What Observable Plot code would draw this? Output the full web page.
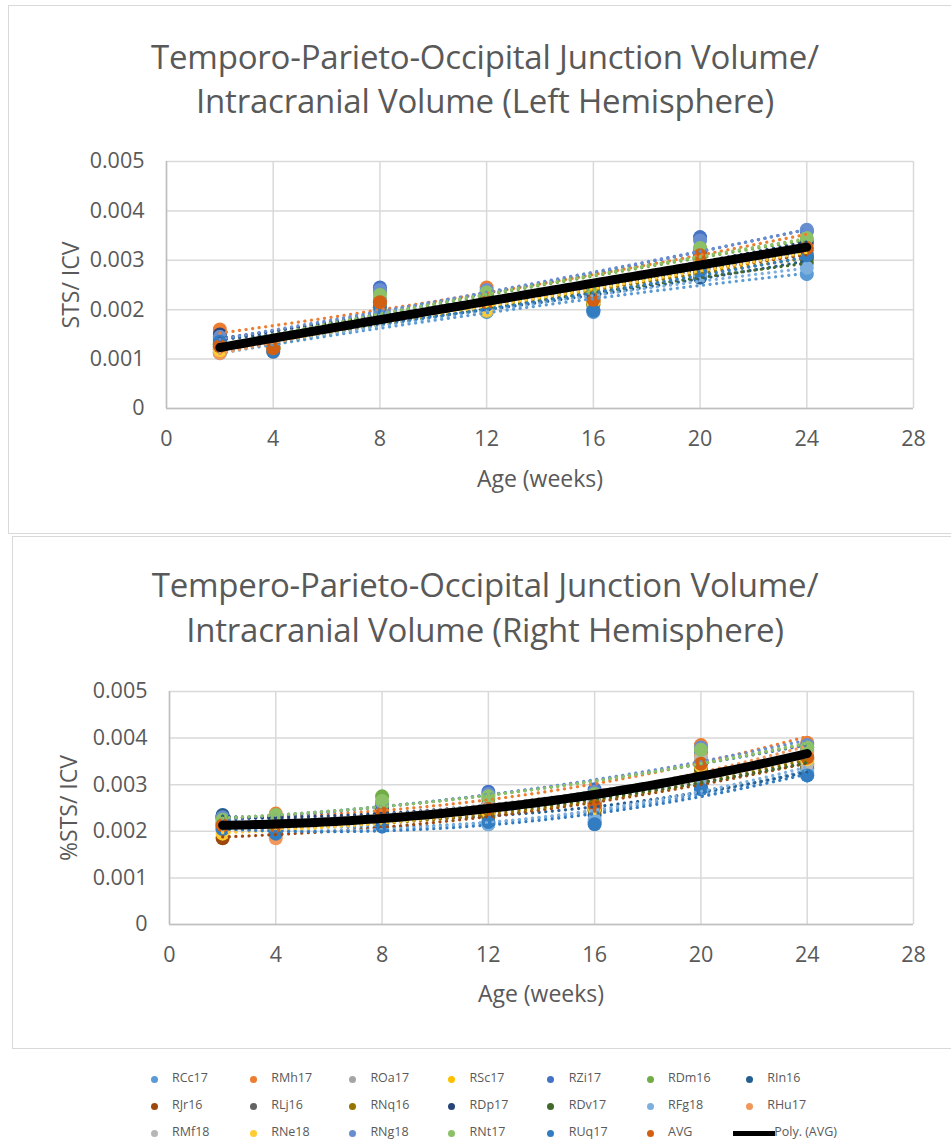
<!DOCTYPE html>
<html>
<head>
<meta charset="utf-8">
<script src="https://cdn.jsdelivr.net/npm/d3@7"></script>
<script src="https://cdn.jsdelivr.net/npm/@observablehq/plot@0.6"></script>
<style>
  body { margin: 0; background: #fff; font-family: "Open Sans", sans-serif; color: #595959; }
  #page { position: relative; width: 951px; height: 1144px; overflow: hidden; background: #fff; }
  .panel { position: absolute; border: 1.5px solid #d9d9d9; background: #fff; }
  .title { position: absolute; left: 0; width: 970px; text-align: center; font-size: 33px; font-weight: 400; color: #595959; white-space: nowrap; line-height: 1; letter-spacing: -0.2px; }
  .axlab { position: absolute; font-size: 23px; color: #595959; white-space: nowrap; line-height: 1; }
  .chart { position: absolute; left: 0; }
  .leg { position: absolute; font-size: 12.5px; color: #595959; white-space: nowrap; line-height: 1; }
  .legdot { position: absolute; width: 7px; height: 7px; border-radius: 50%; }
  .legline { position: absolute; height: 5px; background: #000; }
</style>
</head>
<body>
<div id="page">
  <div class="panel" style="left:8px; top:5px; width:960px; height:527px;"></div>
  <div class="panel" style="left:12px; top:536px; width:960px; height:511px;"></div>
</div>
<script>
const ages = [2, 4, 8, 12, 16, 20, 24];
const xTicks = [0, 4, 8, 12, 16, 20, 24, 28];
const yTicks = [0, 0.001, 0.002, 0.003, 0.004, 0.005];
const seriesNames = ["RCc17","RMh17","ROa17","RSc17","RZi17","RDm16","RIn16","RJr16","RLj16","RNq16","RDp17","RDv17","RFg18","RHu17","RMf18","RNe18","RNg18","RNt17","RUq17","AVG"];
const seriesColors = ["#5B9BD5","#ED7D31","#A5A5A5","#FFC000","#4472C4","#70AD47","#255E91","#9E480E","#636363","#997300","#264478","#43682B","#7CAFDD","#F1975A","#B7B7B7","#FFCD33","#698ED0","#8CC168","#327DC2","#D26012"];
const legendLabels = ["RCc17","RMh17","ROa17","RSc17","RZi17","RDm16","RIn16","RJr16","RLj16","RNq16","RDp17","RDv17","RFg18","RHu17","RMf18","RNe18","RNg18","RNt17","RUq17","AVG","Poly. (AVG)"];

// Left hemisphere: one row per series, values at ages 2,4,8,12,16,20,24
const leftValues = [
  [0.00112, 0.00118, 0.00185, 0.00195, 0.00195, 0.00265, 0.00272],
  [0.00160, 0.00135, 0.00240, 0.00245, 0.00230, 0.00320, 0.00358],
  [0.00125, 0.00122, 0.00210, 0.00210, 0.00215, 0.00290, 0.00315],
  [0.00120, 0.00120, 0.00200, 0.00198, 0.00210, 0.00295, 0.00310],
  [0.00140, 0.00130, 0.00245, 0.00230, 0.00225, 0.00347, 0.00360],
  [0.00130, 0.00125, 0.00235, 0.00220, 0.00235, 0.00325, 0.00340],
  [0.00145, 0.00125, 0.00205, 0.00210, 0.00200, 0.00265, 0.00305],
  [0.00120, 0.00122, 0.00200, 0.00215, 0.00220, 0.00295, 0.00310],
  [0.00130, 0.00125, 0.00215, 0.00210, 0.00215, 0.00290, 0.00320],
  [0.00125, 0.00120, 0.00205, 0.00205, 0.00215, 0.00285, 0.00305],
  [0.00150, 0.00130, 0.00220, 0.00225, 0.00225, 0.00315, 0.00335],
  [0.00115, 0.00120, 0.00190, 0.00205, 0.00210, 0.00275, 0.00295],
  [0.00115, 0.00120, 0.00195, 0.00200, 0.00200, 0.00270, 0.00285],
  [0.00112, 0.00115, 0.00210, 0.00215, 0.00220, 0.00300, 0.00320],
  [0.00125, 0.00125, 0.00220, 0.00215, 0.00220, 0.00300, 0.00325],
  [0.00118, 0.00122, 0.00205, 0.00200, 0.00215, 0.00295, 0.00315],
  [0.00145, 0.00130, 0.00240, 0.00240, 0.00230, 0.00340, 0.00362],
  [0.00130, 0.00128, 0.00230, 0.00235, 0.00230, 0.00325, 0.00345],
  [0.00135, 0.00115, 0.00205, 0.00210, 0.00198, 0.00280, 0.00310],
  [0.00126, 0.00122, 0.00215, 0.00215, 0.00220, 0.00310, 0.00325]
];

// Right hemisphere
const rightValues = [
  [0.00220, 0.00210, 0.00220, 0.00215, 0.00220, 0.00310, 0.00320],
  [0.00225, 0.00238, 0.00255, 0.00260, 0.00275, 0.00385, 0.00390],
  [0.00210, 0.00215, 0.00240, 0.00250, 0.00265, 0.00355, 0.00355],
  [0.00200, 0.00205, 0.00230, 0.00240, 0.00250, 0.00340, 0.00350],
  [0.00230, 0.00225, 0.00250, 0.00285, 0.00290, 0.00370, 0.00375],
  [0.00225, 0.00230, 0.00275, 0.00270, 0.00280, 0.00375, 0.00380],
  [0.00235, 0.00220, 0.00230, 0.00240, 0.00235, 0.00295, 0.00325],
  [0.00185, 0.00195, 0.00215, 0.00230, 0.00245, 0.00320, 0.00340],
  [0.00215, 0.00210, 0.00235, 0.00245, 0.00255, 0.00345, 0.00355],
  [0.00205, 0.00205, 0.00225, 0.00235, 0.00245, 0.00330, 0.00345],
  [0.00230, 0.00225, 0.00250, 0.00255, 0.00260, 0.00350, 0.00360],
  [0.00210, 0.00205, 0.00225, 0.00240, 0.00250, 0.00335, 0.00335],
  [0.00205, 0.00200, 0.00215, 0.00215, 0.00225, 0.00310, 0.00330],
  [0.00210, 0.00185, 0.00230, 0.00245, 0.00255, 0.00360, 0.00370],
  [0.00215, 0.00215, 0.00240, 0.00255, 0.00260, 0.00355, 0.00345],
  [0.00195, 0.00200, 0.00230, 0.00240, 0.00250, 0.00340, 0.00355],
  [0.00230, 0.00230, 0.00260, 0.00280, 0.00285, 0.00380, 0.00385],
  [0.00225, 0.00235, 0.00265, 0.00275, 0.00280, 0.00375, 0.00380],
  [0.00205, 0.00195, 0.00210, 0.00220, 0.00215, 0.00290, 0.00320],
  [0.00213, 0.00212, 0.00238, 0.00248, 0.00255, 0.00345, 0.00358]
];

// quadratic least-squares trendline (Excel "Poly." order 2)
function quadFit(xs, ys) {
  let n = xs.length, sx=0, sx2=0, sx3=0, sx4=0, sy=0, sxy=0, sx2y=0;
  for (let i = 0; i < n; i++) {
    const x = xs[i], y = ys[i];
    sx += x; sx2 += x*x; sx3 += x*x*x; sx4 += x*x*x*x;
    sy += y; sxy += x*y; sx2y += x*x*y;
  }
  const M = [[n, sx, sx2, sy],[sx, sx2, sx3, sxy],[sx2, sx3, sx4, sx2y]];
  for (let c = 0; c < 3; c++) {
    let p = c;
    for (let r = c+1; r < 3; r++) if (Math.abs(M[r][c]) > Math.abs(M[p][c])) p = r;
    [M[c], M[p]] = [M[p], M[c]];
    for (let r = 0; r < 3; r++) if (r !== c) {
      const f = M[r][c] / M[c][c];
      for (let k = c; k < 4; k++) M[r][k] -= f * M[c][k];
    }
  }
  const a = M[0][3]/M[0][0], b = M[1][3]/M[1][1], cc = M[2][3]/M[2][2];
  return x => a + b*x + cc*x*x;
}

function buildData(values) {
  const pts = [], trends = [];
  values.forEach((row, si) => {
    row.forEach((v, i) => pts.push({series: seriesNames[si], age: ages[i], value: v}));
  });
  values.forEach((row, si) => {
    const f = quadFit(ages, row);
    const xs = d3.range(ages[0], ages[ages.length-1] + 0.001, 0.25);
    xs.forEach(x => trends.push({series: seriesNames[si], age: x, value: f(x), avg: seriesNames[si] === "AVG"}));
  });
  return {pts, trends};
}

function makeChart(values, marginLeft, marginTop, plotBottom, plotRight) {
  const {pts, trends} = buildData(values);
  const H = plotBottom + 60;
  return Plot.plot({
    width: 951,
    height: H,
    marginLeft, marginTop,
    marginRight: 951 - plotRight,
    marginBottom: H - plotBottom,
    style: {fontFamily: "'Open Sans', sans-serif", fontSize: "21px", color: "#595959", background: "transparent", overflow: "visible"},
    x: {domain: [0, 28], label: null},
    y: {domain: [0, 0.005], label: null},
    color: {domain: seriesNames, range: seriesColors},
    marks: [
      Plot.gridX(xTicks, {stroke: "#d9d9d9", strokeOpacity: 1, strokeWidth: 1.5}),
      Plot.gridY(yTicks, {stroke: "#d9d9d9", strokeOpacity: 1, strokeWidth: 1.5}),
      Plot.ruleX([0], {stroke: "#bfbfbf", strokeWidth: 1.5}),
      Plot.ruleY([0], {stroke: "#bfbfbf", strokeWidth: 1.5}),
      Plot.dot(pts, {x: "age", y: "value", fill: "series", r: 7, stroke: null}),
      Plot.line(trends.filter(d => !d.avg), {x: "age", y: "value", z: "series", stroke: "series", strokeWidth: 3.2, strokeDasharray: "0.1,6.5", strokeLinecap: "round"}),
      Plot.line(trends.filter(d => d.avg), {x: "age", y: "value", stroke: "#000", strokeWidth: 9, strokeLinecap: "round"}),
      Plot.axisX(xTicks, {tickSize: 0, tickPadding: 22, fill: "#595959", fontSize: 21.5, label: null}),
      Plot.axisY(yTicks, {tickSize: 0, tickPadding: 22, fill: "#595959", fontSize: 21.5, label: null,
        tickFormat: d => d === 0 ? "0" : d3.format(".3f")(d)})
    ]
  });
}

const page = document.getElementById("page");

function addText(cls, text, style) {
  const el = document.createElement("div");
  el.className = cls;
  el.textContent = text;
  Object.assign(el.style, style);
  page.appendChild(el);
  return el;
}

// Top chart (left hemisphere)
const c1 = makeChart(leftValues, 166, 161, 408, 913);
c1.classList.add("chart");
c1.style.position = "absolute"; c1.style.left = "0px"; c1.style.top = "0px";
page.appendChild(c1);
addText("title", "Temporo-Parieto-Occipital Junction Volume/", {top: "40px"});
addText("title", "Intracranial Volume (Left Hemisphere)", {top: "84px"});
addText("axlab", "Age (weeks)", {left: "540px", top: "467px", transform: "translateX(-50%)"});
addText("axlab", "STS/ ICV", {left: "70px", top: "285px", transform: "translate(-50%,-50%) rotate(-90deg)"});

// Bottom chart (right hemisphere)
const c2 = makeChart(rightValues, 169, 691, 924, 913);
c2.classList.add("chart");
c2.style.position = "absolute"; c2.style.left = "0px"; c2.style.top = "0px";
page.appendChild(c2);
addText("title", "Tempero-Parieto-Occipital Junction Volume/", {top: "568px"});
addText("title", "Intracranial Volume (Right Hemisphere)", {top: "613px"});
addText("axlab", "Age (weeks)", {left: "541px", top: "982px", transform: "translateX(-50%)"});
addText("axlab", "%STS/ ICV", {left: "68px", top: "808px", transform: "translate(-50%,-50%) rotate(-90deg)"});

// Legend
const legX0 = 154, legDX = 99.2, legY0 = 1079, legDY = 27;
legendLabels.forEach((lab, i) => {
  const row = Math.floor(i / 7), col = i % 7;
  const cx = legX0 + col * legDX, cy = legY0 + row * legDY;
  if (lab === "Poly. (AVG)") {
    const ln = document.createElement("div");
    ln.className = "legline";
    Object.assign(ln.style, {left: (cx - 16) + "px", top: (cy - 2.5) + "px", width: "42px"});
    page.appendChild(ln);
    addText("leg", lab, {left: (cx + 25) + "px", top: (cy - 7.5) + "px"});
  } else {
    const dot = document.createElement("div");
    dot.className = "legdot";
    Object.assign(dot.style, {left: (cx - 3.5) + "px", top: (cy - 3.5) + "px", background: seriesColors[i]});
    page.appendChild(dot);
    addText("leg", lab, {left: (cx + 18) + "px", top: (cy - 7.5) + "px"});
  }
});
</script>
</body>
</html>
